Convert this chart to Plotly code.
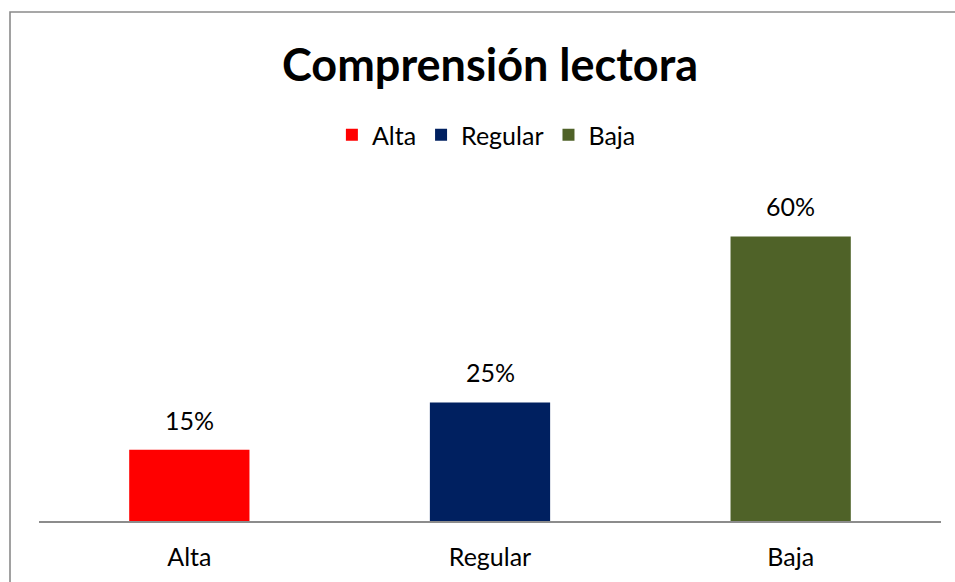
import plotly.graph_objects as go

categories = ["Alta", "Regular", "Baja"]
values = [0.15, 0.25, 0.60]
labels = ["15%", "25%", "60%"]
colors = ["#FF0000", "#002060", "#4F6228"]

W, H = 955, 582
ml, mr, mt, mb = 39, 14, 189, 61
pw, ph = W - ml - mr, H - mt - mb

FONT = "Lato"

fig = go.Figure()
for c, v, col in zip(categories, values, colors):
    fig.add_trace(go.Bar(x=[c], y=[v], name=c, marker_color=col, width=0.4,
                         marker_line_width=0, showlegend=True))

for c, v, t in zip(categories, values, labels):
    fig.add_annotation(x=c, y=v, text=t, showarrow=False, yanchor="bottom",
                       yshift=13, font=dict(family=FONT, size=25, color="#000000"))

# chart border (outer frame)
fig.add_shape(type="rect", xref="paper", yref="paper",
              x0=(10 - ml) / pw, x1=(W + 20 - ml) / pw,
              y0=-0.5, y1=(H - mb - 12) / ph,
              line=dict(color="#8a8a8a", width=1.6), fillcolor="rgba(0,0,0,0)",
              layer="below")

fig.update_layout(
    width=W, height=H,
    margin=dict(l=ml, r=mr, t=mt, b=mb),
    paper_bgcolor="white", plot_bgcolor="white",
    font=dict(family=FONT, size=25, color="#000000"),
    title=dict(text="<b>Comprensión lectora</b>", x=0.5, xref="paper",
               y=1 - 65 / H, yref="container", yanchor="middle",
               font=dict(family=FONT, size=45, color="#000000")),
    legend=dict(orientation="h", x=0.496, xanchor="center",
                y=(H - mb - 135) / ph, yanchor="middle",
                font=dict(family=FONT, size=25, color="#000000"),
                itemwidth=30, traceorder="normal"),
    barmode="overlay",
    showlegend=True,
)
fig.update_xaxes(categoryorder="array", categoryarray=categories,
                 showline=True, linecolor="#8c8c8c", linewidth=1.5,
                 showgrid=False, zeroline=False, ticks="",
                 ticklabelstandoff=13,
                 tickfont=dict(family=FONT, size=25, color="#000000"))
fig.update_yaxes(range=[0, 0.7], visible=False, showgrid=False, zeroline=False)

fig.write_html("out.html", config={"displayModeBar": False},
               post_script="document.body.style.margin='0';document.body.style.overflow='hidden';")
